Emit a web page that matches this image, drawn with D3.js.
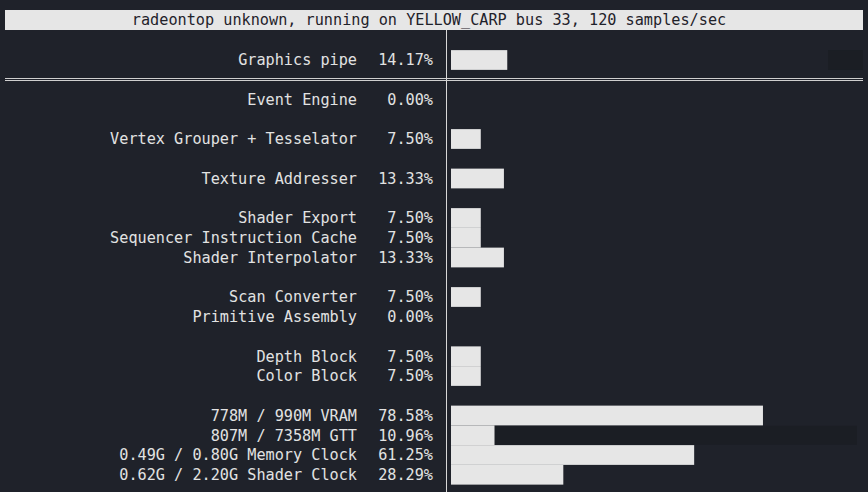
<!DOCTYPE html><html><head><meta charset="utf-8">
<script src="https://cdn.jsdelivr.net/npm/d3@7"></script>
<style>body{margin:0;background:#1f222a;}svg{display:block}</style></head><body>
<script>
const title = "radeontop unknown, running on YELLOW_CARP bus 33, 120 samples/sec";
const labels = ["Graphics pipe","Event Engine","Vertex Grouper + Tesselator","Texture Addresser","Shader Export","Sequencer Instruction Cache","Shader Interpolator","Scan Converter","Primitive Assembly","Depth Block","Color Block","778M / 990M VRAM","807M / 7358M GTT","0.49G / 0.80G Memory Clock","0.62G / 2.20G Shader Clock"];
const values = [14.17,0.00,7.50,13.33,7.50,7.50,13.33,7.50,0.00,7.50,7.50,78.58,10.96,61.25,28.29];
const lines = [0,2,4,6,8,9,10,12,13,15,16,18,19,20,21];

const W=868,H=492;
const svg=d3.select("body").append("svg").attr("width",W).attr("height",H);
svg.append("rect").attr("width",W).attr("height",H).attr("fill","#1f222a");
const lh=19.75;
const y=d3.scaleLinear().domain([0,1]).range([60,60+lh]);
const x=d3.scaleLinear().domain([0,100]).range([451,848]);
const font="'DejaVu Sans Mono', monospace";
// header
svg.append("rect").attr("x",5).attr("y",10).attr("width",858).attr("height",20).attr("fill","#e6e6e6");
svg.append("text").attr("x",429).attr("y",20).attr("dy","0.35em").attr("text-anchor","middle")
  .attr("font-family",font).attr("font-size",15.2).attr("fill","#1f222a").text(title);
// GTT dark strip and right-edge dark box
svg.append("rect").attr("x",x(0)).attr("y",y(19)-lh/2+0.5).attr("width",857-x(0)).attr("height",lh-1).attr("fill","#1b1e24");
svg.append("rect").attr("x",828).attr("y",y(0)-lh/2).attr("width",35).attr("height",lh).attr("fill","#1b1e24");
// separators
svg.append("line").attr("x1",446.5).attr("x2",446.5).attr("y1",30).attr("y2",H).attr("stroke","#d8d8d8").attr("stroke-width",1);
svg.append("line").attr("x1",5).attr("x2",863).attr("y1",78.5).attr("y2",78.5).attr("stroke","#cfcfcf").attr("stroke-width",1);
svg.append("line").attr("x1",5).attr("x2",863).attr("y1",80.5).attr("y2",80.5).attr("stroke","#cfcfcf").attr("stroke-width",1);
const g=svg.append("g");
labels.forEach((l,i)=>{
  const cy=y(lines[i]);
  g.append("text").attr("x",357).attr("y",cy).attr("dy","0.35em").attr("text-anchor","end")
    .attr("font-family",font).attr("font-size",15.2).attr("fill","#e2e2e2").text(l);
  g.append("text").attr("x",433).attr("y",cy).attr("dy","0.35em").attr("text-anchor","end")
    .attr("font-family",font).attr("font-size",15.2).attr("fill","#e2e2e2").text(values[i].toFixed(2)+"%");
  if(values[i]>0) g.append("rect").attr("x",x(0)).attr("y",cy-lh/2).attr("width",x(values[i])-x(0)).attr("height",lh)
    .attr("fill","#e6e6e6");
});
</script></body></html>
